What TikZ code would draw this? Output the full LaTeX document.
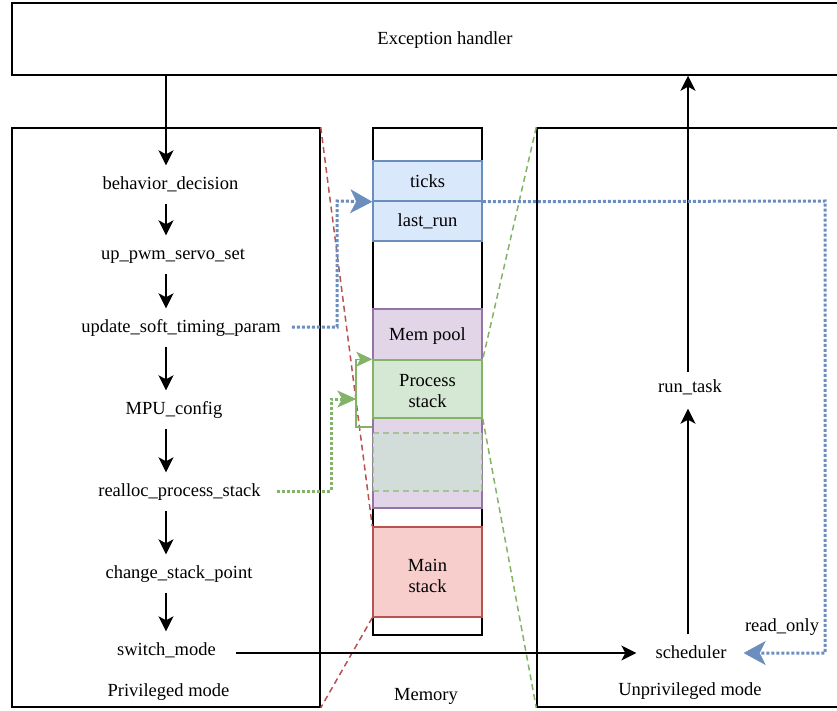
\documentclass[tikz,border=0pt]{standalone}
\usepackage{fontspec}
\setmainfont{Liberation Serif}
\usetikzlibrary{arrows.meta,calc}
\definecolor{blueFill}{HTML}{DAE8FC}
\definecolor{blueLine}{HTML}{6C8EBF}
\definecolor{poolFill}{HTML}{E1D5E7}
\definecolor{poolLine}{HTML}{9673A6}
\definecolor{stackFill}{HTML}{D5E8D4}
\definecolor{stackLine}{HTML}{82B366}
\definecolor{ghostFill}{HTML}{D2DCD9}
\definecolor{mainFill}{HTML}{F8CECC}
\definecolor{mainLine}{HTML}{B85450}
\begin{document}
\begin{tikzpicture}[
  x=1pt, y=-1pt,
  font=\fontsize{18.5}{21.5}\selectfont,
  every node/.style={inner sep=6pt},
  text node/.style={text height=14pt, text depth=3pt},
  frame node/.style={draw, line width=1.5pt, inner sep=0pt},
  mem node/.style={draw, line width=1.5pt, minimum width=109pt, align=center, inner sep=0pt},
  flow edge/.style={draw, line width=1.5pt, -{Stealth[length=15pt,width=15pt,inset=4pt]}},
  blue link/.style={draw=blueLine, line width=3pt, dash pattern=on 3pt off 2pt,
    -{Stealth[length=22pt,width=24pt,inset=6pt,line width=0.5pt,fill=blueLine]}},
  green link/.style={draw=stackLine, line width=3pt, dash pattern=on 3pt off 2pt,
    -{Stealth[length=19pt,width=17pt,inset=5pt,line width=0.5pt,fill=stackLine]}},
  green move/.style={draw=stackLine, line width=1.5pt,
    -{Stealth[length=16pt,width=15pt,inset=4pt,fill=stackLine]}},
  slice edge/.style={line width=1.5pt, dash pattern=on 6pt off 4pt}
]
\useasboundingbox (0,0) rectangle (837,711);
% Define the frames (the right-hand ones run off the page)
\node[frame node, text node, minimum width=866pt, minimum height=72pt] (exc) at (445,39) {Exception handler};
\node[frame node, minimum width=308pt, minimum height=579pt] (priv) at (166,417.5) {};
\node[frame node, minimum width=306pt, minimum height=579pt] (unpriv) at (690,417.5) {};
\node[frame node, minimum width=109pt, minimum height=507pt] (mem) at (427.5,381.5) {};
% Define the memory blocks
\node[mem node, fill=blueFill, draw=blueLine, minimum height=40pt] (ticks) at (427.5,181) {ticks};
\node[mem node, fill=blueFill, draw=blueLine, minimum height=40pt] (lastrun) at (427.5,221) {last\_run};
\node[mem node, fill=poolFill, draw=poolLine, minimum height=199pt] (pool) at (427.5,408.5) {};
\node[text node] (mempool) at (427.5,335) {Mem pool};
\node[mem node, fill=stackFill, draw=stackLine, minimum height=58pt] (pstack) at (427.5,389) {};
\node[align=center, inner sep=0pt] (pstacktext) at (427.5,391) {Process\\stack};
\node[mem node, fill=ghostFill, draw=stackLine, draw opacity=0.6, dash pattern=on 6pt off 4pt, minimum height=58pt] (ghost) at (427.5,462) {};
\node[mem node, fill=mainFill, draw=mainLine, minimum height=90pt] (mstack) at (427.5,572) {};
\node[align=center, inner sep=0pt] (mstacktext) at (427.5,576) {Main\\stack};
% Define the steps
\coordinate (lcol) at (166,0);
\coordinate (rcol) at (688,0);
\node[text node] (behavior) at (170.5,184) {behavior\_decision};
\node[text node] (pwm) at (173,254) {up\_pwm\_servo\_set};
\node[text node] (timing) at (181,327) {update\_soft\_timing\_param};
\node[text node] (mpu) at (174,409) {MPU\_config};
\node[text node] (realloc) at (179.5,491) {realloc\_process\_stack};
\node[text node] (chsp) at (179,573) {change\_stack\_point};
\node[text node] (switch) at (166.5,650) {switch\_mode};
\node[text node] (privtext) at (168.5,691) {Privileged mode};
\node[text node] (memtext) at (426,695) {Memory};
\node[text node] (unprivtext) at (690,690) {Unprivileged mode};
\node[text node] (runtask) at (690,387) {run\_task};
\node[text node] (sched) at (691,653) {scheduler};
\node[text node] (readonly) at (782,626) {read\_only};
% Define the slices
\draw[slice edge, draw=mainLine] (priv.north east) -- (mstack.north west);
\draw[slice edge, draw=mainLine] (mstack.south west) -- (priv.south east);
\draw[slice edge, draw=stackLine] (unpriv.north west) -- (pstack.north east);
\draw[slice edge, draw=stackLine] (pstack.south east) -- (unpriv.south west);
% Define the edges
\draw[flow edge, shorten >=4pt] (exc.south -| lcol) -- (behavior.north -| lcol);
\foreach \a/\b in {behavior/pwm, pwm/timing, timing/mpu, mpu/realloc, realloc/chsp, chsp/switch}
  \draw[flow edge, shorten <=5pt, shorten >=4pt] (\a.south -| lcol) -- (\b.north -| lcol);
\draw[flow edge, shorten <=14pt, shorten >=13pt] (sched.west -| switch.east) -- (sched.west);
\draw[flow edge, shorten <=4pt, shorten >=7pt] (sched.north -| rcol) -- (runtask.south -| rcol);
\draw[flow edge] (runtask.north -| rcol) -- (exc.south -| rcol);
% Define the links
\coordinate (bturn) at (337,201);
\coordinate (bcorner) at (825,201);
\coordinate (gturn) at (331,399);
\coordinate (gback) at (356,427);
\draw[green move] (gback -| pstack.west) -- (gback) |- (pstack.north west);
\draw[green link, shorten <=10pt, shorten >=16pt] (realloc.east) -| (gturn) -- (gturn -| pstack.west);
\draw[blue link, shorten <=5pt] (timing.east) -| (bturn) -- (ticks.south west);
\draw[blue link, shorten >=11pt] (ticks.south east) -- (bcorner) |- (sched.east);
\end{tikzpicture}
\end{document}
